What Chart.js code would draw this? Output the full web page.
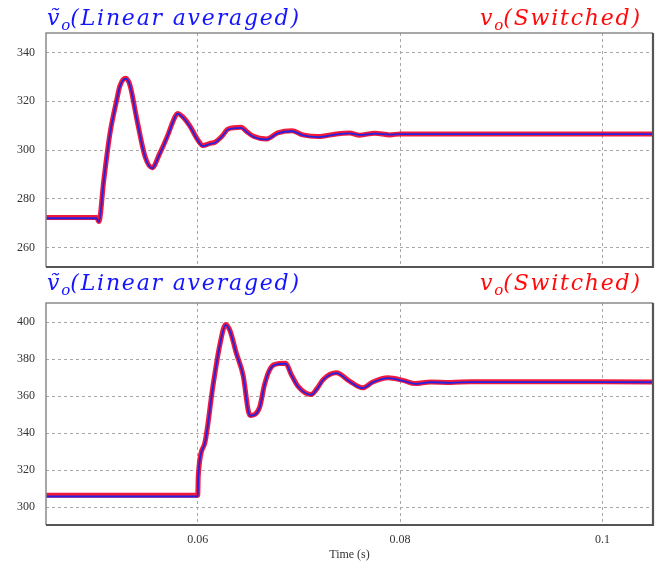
<!DOCTYPE html>
<html>
<head>
<meta charset="utf-8">
<script src="https://cdn.jsdelivr.net/npm/chart.js@4"></script>
<style>
  html, body { margin: 0; padding: 0; background: #fff; }
  #wrap { position: relative; width: 669px; height: 566px; overflow: hidden; }
  canvas { position: absolute; left: 0; }
  .ttl { position: absolute; font-family: "DejaVu Serif", serif; font-style: italic;
         font-size: 22px; line-height: 24px; letter-spacing: 1.8px; white-space: nowrap; }
  .ttl sub { font-size: 15px; line-height: 0; vertical-align: -5px; letter-spacing: 0; }
  .avg { color: #1414ff; }
  .sw  { color: #ff0a0a; }
</style>
</head>
<body>
<div id="wrap">
  <canvas id="topChart" width="669" height="272" style="top:0"></canvas>
  <canvas id="bottomChart" width="669" height="294" style="top:272px"></canvas>
  <div class="ttl avg" style="left:47px; top:6px">ṽ<sub>o</sub>(Linear averaged)</div>
  <div class="ttl sw"  style="left:480px; top:6px">v<sub>o</sub>(Switched)</div>
  <div class="ttl avg" style="left:47px; top:271px">ṽ<sub>o</sub>(Linear averaged)</div>
  <div class="ttl sw"  style="left:480px; top:271px">v<sub>o</sub>(Switched)</div>
</div>
<script>
// Output voltage step responses: linear averaged model vs switched simulation.

// Upper panel: load-side disturbance near t = 0.05 s
const timeTop = [0.045, 0.0500, 0.05023, 0.0507, 0.05132, 0.0520, 0.0523, 0.05287, 0.0533, 0.0540,
  0.0548, 0.0555, 0.0562, 0.0570, 0.0576, 0.0580, 0.0585, 0.0592, 0.0600, 0.0605,
  0.0612, 0.0617, 0.0624, 0.0630, 0.0643, 0.0648, 0.0655, 0.0668, 0.0679, 0.0693,
  0.0704, 0.0719, 0.0737, 0.0750, 0.0760, 0.0775, 0.0790, 0.0800, 0.1050];
const averagedTop = [272.0, 272.0, 270.5, 287.0, 306.5, 320.5, 326.0, 329.3, 326.5, 312.0,
  297.0, 292.5, 298.0, 305.5, 312.0, 314.9, 313.5, 309.8, 304.0, 301.6,
  302.5, 303.0, 305.5, 308.4, 309.1, 307.5, 305.4, 304.3, 306.8, 307.7,
  306.0, 305.3, 306.4, 306.8, 306.2, 306.7, 306.3, 306.5, 306.5];
const switchedTop = [272.3, 272.3, 270.7, 287.2, 306.7, 320.7, 326.2, 329.4, 326.6, 312.2,
  297.2, 292.7, 298.2, 305.7, 312.2, 315.0, 313.7, 310.0, 304.2, 301.8,
  302.7, 303.2, 305.7, 308.6, 309.3, 307.7, 305.6, 304.5, 307.0, 307.9,
  306.2, 305.5, 306.6, 307.0, 306.1, 306.9, 306.2, 306.6, 306.6];

// Lower panel: reference step at t = 0.06 s
const timeBottom = [0.045, 0.0600, 0.06005, 0.0607, 0.0615, 0.0622, 0.06276, 0.0632, 0.0638, 0.0645,
  0.0650, 0.0652, 0.0661, 0.0666, 0.0671, 0.06762, 0.0687, 0.0692, 0.0699, 0.0712,
  0.0718, 0.0724, 0.0737, 0.0750, 0.0763, 0.0773, 0.0788, 0.0803, 0.0815, 0.0830,
  0.0850, 0.0870, 0.1050];
const averagedBottom = [305.8, 305.8, 316.5, 334.6, 365.2, 388.0, 398.5, 395.0, 383.2, 370.6,
  351.7, 349.4, 353.5, 366.0, 374.0, 376.9, 377.5, 372.0, 365.2, 360.7,
  364.0, 368.8, 372.4, 367.9, 364.3, 367.4, 369.7, 368.3, 366.6, 367.5,
  367.2, 367.6, 367.5];
const switchedBottom = [306.5, 306.5, 316.8, 334.8, 365.4, 388.2, 398.7, 395.2, 383.4, 370.8,
  351.9, 349.6, 353.7, 366.2, 374.2, 377.1, 377.7, 372.2, 365.4, 360.9,
  364.2, 369.0, 372.6, 368.1, 364.5, 367.6, 369.9, 368.5, 366.8, 367.7,
  367.4, 367.8, 367.7];

const timeTicks = [0.06, 0.08, 0.1];
const timeTickLabels = ['0.06', '0.08', '0.1'];
const topVoltTicks = [260, 280, 300, 320, 340];
const bottomVoltTicks = [300, 320, 340, 360, 380, 400];

function pts(xs, ys) { return xs.map((x, i) => ({ x: x, y: ys[i] })); }

// Plot frame: light top/left edges, darker right/bottom edges
const framePlugin = {
  id: 'frame',
  afterDraw(chart) {
    const a = chart.chartArea, ctx = chart.ctx;
    ctx.save();
    ctx.strokeStyle = '#8a8a8a';
    ctx.lineWidth = 1.5;
    ctx.beginPath();
    ctx.moveTo(a.left, a.bottom);
    ctx.lineTo(a.left, a.top);
    ctx.lineTo(a.right, a.top);
    ctx.stroke();
    ctx.strokeStyle = '#555';
    ctx.lineWidth = 2.2;
    ctx.beginPath();
    ctx.moveTo(a.right, a.top);
    ctx.lineTo(a.right, a.bottom);
    ctx.lineTo(a.left, a.bottom);
    ctx.stroke();
    ctx.restore();
  }
};

const tickFont = { family: '"Liberation Serif", serif', size: 12 };
const gridStyle = { color: '#a8a8a8', lineWidth: 1, drawTicks: false };

function makeChart(id, time, avg, sw, yMin, yMax, yTicks, opts) {
  return new Chart(document.getElementById(id), {
    type: 'line',
    data: {
      datasets: [
        { label: 'Linear averaged', data: pts(time, avg), borderColor: 'rgb(35,35,225)',
          borderWidth: 1.8, pointRadius: 0, cubicInterpolationMode: 'monotone' },
        { label: 'Switched', data: pts(time, sw), borderColor: 'rgba(240,0,40,0.9)',
          borderWidth: 5, pointRadius: 0, cubicInterpolationMode: 'monotone' }
      ]
    },
    options: {
      responsive: false,
      animation: false,
      layout: { padding: { top: opts.padTop, right: 16, left: 0, bottom: 0 } },
      plugins: { legend: { display: false }, tooltip: { enabled: false } },
      scales: {
        x: {
          type: 'linear', min: 0.045, max: 0.105,
          afterBuildTicks: s => { s.ticks = timeTicks.map(v => ({ value: v })); },
          afterFit: s => { s.height = opts.xHeight; },
          grid: gridStyle,
          border: { display: false, dash: [3, 3] },
          ticks: {
            display: opts.showX, font: tickFont, color: '#333', padding: 8, maxRotation: 0,
            callback: v => timeTickLabels[timeTicks.indexOf(+v.toFixed(3))] ?? ''
          },
          title: { display: opts.showX, text: 'Time (s)', font: tickFont, color: '#333', padding: { top: 2 } }
        },
        y: {
          min: yMin, max: yMax,
          afterBuildTicks: s => { s.ticks = yTicks.map(v => ({ value: v })); },
          afterFit: s => { s.width = 46; s.paddingTop = 0; s.paddingBottom = 0; },
          grid: gridStyle,
          border: { display: false, dash: [3, 3] },
          ticks: { font: tickFont, color: '#333', padding: 11 }
        }
      }
    },
    plugins: [framePlugin]
  });
}

makeChart('topChart', timeTop, averagedTop, switchedTop, 252, 348, topVoltTicks,
  { padTop: 33, xHeight: 5, showX: false });
makeChart('bottomChart', timeBottom, averagedBottom, switchedBottom, 290.4, 410.3, bottomVoltTicks,
  { padTop: 31, xHeight: 41, showX: true });
</script>
</body>
</html>
